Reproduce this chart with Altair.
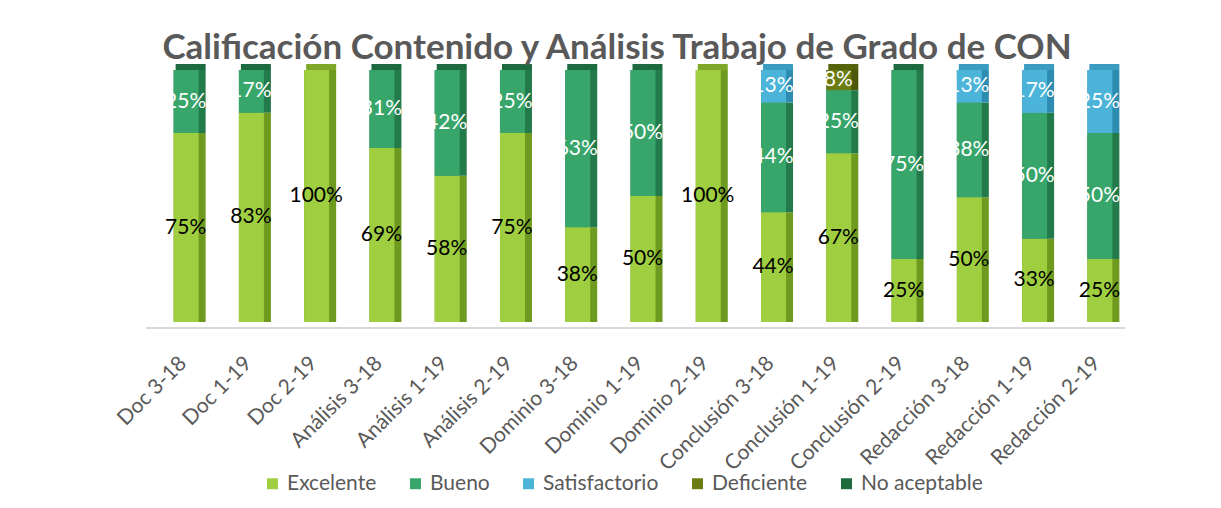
import altair as alt
import pandas as pd

title_text = "Calificación Contenido y Análisis Trabajo de Grado de CON"
categories = ["Doc 3-18", "Doc 1-19", "Doc 2-19", "Análisis 3-18", "Análisis 1-19",
              "Análisis 2-19", "Dominio 3-18", "Dominio 1-19", "Dominio 2-19",
              "Conclusión 3-18", "Conclusión 1-19", "Conclusión 2-19",
              "Redacción 3-18", "Redacción 1-19", "Redacción 2-19"]
series = ["Excelente", "Bueno", "Satisfactorio", "Deficiente", "No aceptable"]
excelente = [75, 83, 100, 69, 58, 75, 38, 50, 100, 44, 67, 25, 50, 33, 25]
bueno = [25, 17, 0, 31, 42, 25, 63, 50, 0, 44, 25, 75, 38, 50, 50]
satisfactorio = [0, 0, 0, 0, 0, 0, 0, 0, 0, 13, 0, 0, 13, 17, 25]
deficiente = [0, 0, 0, 0, 0, 0, 0, 0, 0, 0, 8, 0, 0, 0, 0]
no_aceptable = [0, 0, 0, 0, 0, 0, 0, 0, 0, 0, 0, 0, 0, 0, 0]

front_colors = ["#9fcf41", "#38a66a", "#4cb4d9", "#6a7c12", "#1f6b40"]
side_colors = ["#6e9a1f", "#237a4a", "#2d8cb0", "#4b580a", "#134a2c"]
cap_colors = ["#7fa82a", "#1d6a40", "#3a9cc0", "#55640c", "#134a2c"]

rows = []
for vals, s, o in zip([excelente, bueno, satisfactorio, deficiente, no_aceptable], series, range(5)):
    for c, v in zip(categories, vals):
        rows.append({"cat": c, "series": s, "value": v, "ord": o})
df = pd.DataFrame(rows)

FONT = "Lato"
W, H = 979, 252

x_enc = alt.X("cat:N", sort=categories, scale=alt.Scale(paddingInner=0.5, paddingOuter=0.25),
              axis=alt.Axis(title=None, labelAngle=-45, labelFontSize=21, labelFont=FONT,
                            labelColor="#595959", domain=False, ticks=False, labelPadding=30,
                            labelOffset=-14))
y_enc = alt.Y("value:Q", stack="normalize", scale=alt.Scale(domain=[0, 1]), axis=None)

base = alt.Chart(df)

side = base.mark_bar(size=32).encode(
    x=x_enc, y=y_enc,
    color=alt.Color("series:N", sort=series,
                    scale=alt.Scale(domain=series, range=side_colors), legend=None),
    order=alt.Order("ord:Q"),
)

front = base.mark_bar(size=25, xOffset=-3.5).encode(
    x=x_enc, y=y_enc,
    color=alt.Color("series:N", sort=series,
                    scale=alt.Scale(domain=series, range=front_colors),
                    legend=alt.Legend(title=None, orient="none", direction="horizontal",
                                      legendX=105, legendY=403, symbolType="square",
                                      symbolSize=120, symbolStrokeWidth=0,
                                      labelFontSize=21, labelFont=FONT, labelColor="#595959",
                                      columnPadding=28, symbolOffset=0)),
    order=alt.Order("ord:Q"),
)

# top face of each column, coloured as its top segment
cap = base.transform_filter("datum.value > 0").transform_joinaggregate(
    top="max(ord)", groupby=["cat"]
).transform_filter("datum.ord == datum.top").mark_bar(size=30, xOffset=1).encode(
    x=alt.X("cat:N", sort=categories),
    y=alt.value(-6), y2=alt.value(0),
    color=alt.Color("series:N", sort=series,
                    scale=alt.Scale(domain=series, range=cap_colors), legend=None),
)

labels = base.transform_stack(
    stack="value", groupby=["cat"], sort=[alt.SortField("ord", order="ascending")],
    as_=["y0", "y1"], offset="normalize"
).transform_calculate(
    mid="(datum.y0 + datum.y1) / 2",
    lab="datum.value + '%'"
).transform_filter("datum.value > 0").mark_text(
    font=FONT, fontSize=21, dx=-4, baseline="middle"
).encode(
    x=alt.X("cat:N", sort=categories),
    y=alt.Y("mid:Q", scale=alt.Scale(domain=[0, 1]), axis=None),
    text="lab:N",
    color=alt.condition(alt.datum.series == "Excelente", alt.value("#000000"), alt.value("#ffffff")),
)

one = alt.Chart(alt.Data(values=[{}]))
axis_line = one.mark_rule(color="#d9d9d9", strokeWidth=2).encode(
    x=alt.value(-11), x2=alt.value(968), y=alt.value(H + 6))
border = one.mark_rule(color="#d9d9d9", strokeWidth=1).encode(
    x=alt.value(-150), y=alt.value(-70), y2=alt.value(440))
title = one.mark_text(font=FONT, fontSize=35, fontWeight="bold", color="#595959",
                      align="center", baseline="alphabetic").encode(
    x=alt.value(460), y=alt.value(-11), text=alt.value(title_text))

chart = alt.layer(side, front, cap, labels, axis_line, border, title).resolve_scale(
    color="independent"
).properties(
    width=W, height=H,
    autosize=alt.AutoSizeParams(type="none"),
    padding={"left": 149, "top": 62, "right": 77, "bottom": 178},
).configure_view(stroke=None)

chart.save("out.html", embed_options={"renderer": "svg", "actions": False})
